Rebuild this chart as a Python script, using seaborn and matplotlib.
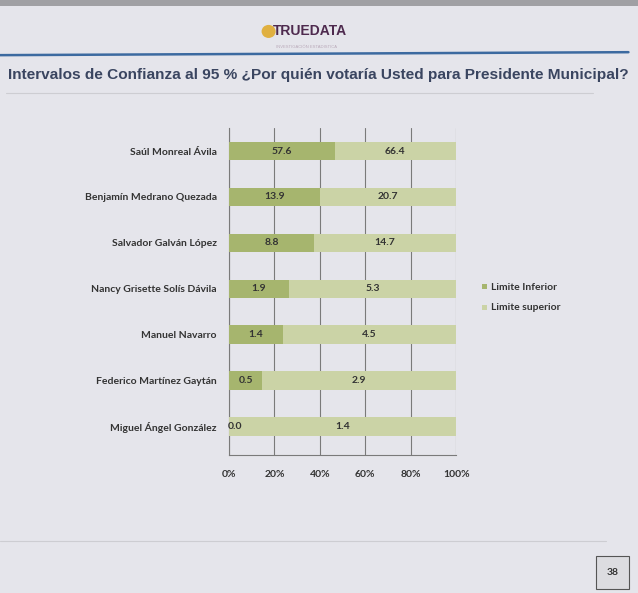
import pandas as pd
import numpy as np
import matplotlib
matplotlib.use('Agg')
import matplotlib.pyplot as plt
import seaborn as sns
from matplotlib.patches import Circle, Rectangle

# datos del gráfico (intervalos de confianza al 95 %)
candidatos = ['Saúl Monreal Ávila', 'Benjamín Medrano Quezada', 'Salvador Galván López',
              'Nancy Grisette Solís Dávila', 'Manuel Navarro', 'Federico Martínez Gaytán',
              'Miguel Ángel González']
limite_inferior = [57.6, 13.9, 8.8, 1.9, 1.4, 0.5, 0.0]
limite_superior = [66.4, 20.7, 14.7, 5.3, 4.5, 2.9, 1.4]
ticks_x = [0, 20, 40, 60, 80, 100]
series = ['Limite Inferior', 'Limite superior']

BG = '#e5e5eb'
VERDE_OSCURO = '#a6b56e'
VERDE_CLARO = '#cbd3a6'
TXT = '#333333'

df = pd.DataFrame({'Candidato': candidatos, 'Inferior': limite_inferior, 'Superior': limite_superior})
df['Total'] = df['Inferior'] + df['Superior']
# barras 100 % apiladas
df['pct_inf'] = df['Inferior'] / df['Total'] * 100
df['pct_tot'] = 100.0

sns.set_style('white')
plt.rcParams['font.family'] = ['Lato', 'DejaVu Sans']

fig = plt.figure(figsize=(6.38, 5.93), dpi=100, facecolor=BG)
ax = fig.add_axes([0.359, 0.233, 0.356, 0.551])
ax.set_facecolor(BG)

sns.barplot(data=df, y='Candidato', x='pct_tot', orient='h', color=VERDE_CLARO,
            saturation=1, width=0.4, ax=ax)
sns.barplot(data=df, y='Candidato', x='pct_inf', orient='h', color=VERDE_OSCURO,
            saturation=1, width=0.4, ax=ax)

for p in ax.patches:
    p.set_edgecolor('none')
    p.set_zorder(3)

# etiquetas de valores
for i, row in df.iterrows():
    x_inf = row['pct_inf'] / 2 if row['pct_inf'] > 3 else 2.5
    ax.text(x_inf, i, f"{row['Inferior']:.1f}", ha='center', va='center',
            fontsize=7.5, fontweight='bold', color=TXT, zorder=4)
    ax.text(row['pct_inf'] + (100 - row['pct_inf']) / 2, i, f"{row['Superior']:.1f}",
            ha='center', va='center', fontsize=7.5, fontweight='bold', color=TXT, zorder=4)

ax.set_xlim(0, 100)
ax.set_ylim(6.62, -0.48)
ax.set_xticks(ticks_x)
ax.set_xticklabels([f'{t}%' for t in ticks_x], fontsize=7.5, fontweight='bold', color=TXT)
ax.set_yticks(range(len(candidatos)))
ax.set_yticklabels(candidatos, fontsize=7.5, fontweight='bold', color=TXT)
ax.set_xlabel('')
ax.set_ylabel('')
ax.grid(axis='x', color='#7a7a7a', linewidth=0.8, zorder=0)
ax.set_axisbelow(True)
for s in ['top', 'right']:
    ax.spines[s].set_visible(False)
for s in ['left', 'bottom']:
    ax.spines[s].set_color('#7a7a7a')
    ax.spines[s].set_linewidth(0.8)
ax.set_yticks(np.arange(-0.5, 7, 1), minor=True)
ax.tick_params(axis='y', which='major', length=0, pad=9)
ax.tick_params(axis='y', which='minor', length=4, color='#7a7a7a', direction='out')
ax.tick_params(axis='x', length=4, color='#7a7a7a', pad=7)

# leyenda
fig.patches.append(Rectangle((0.755, 0.512), 0.008, 0.009, transform=fig.transFigure,
                             facecolor=VERDE_OSCURO, edgecolor='none'))
fig.patches.append(Rectangle((0.755, 0.477), 0.008, 0.009, transform=fig.transFigure,
                             facecolor=VERDE_CLARO, edgecolor='none'))
fig.text(0.770, 0.516, series[0], fontsize=7.5, va='center', color=TXT, fontweight='bold')
fig.text(0.770, 0.481, series[1], fontsize=7.5, va='center', color=TXT, fontweight='bold')

# encabezado
fig.patches.append(Rectangle((0, 0.99), 1, 0.01, transform=fig.transFigure,
                             facecolor='#a0a0a4', edgecolor='none'))
fig.patches.append(Circle((0.421, 0.947), 0.011, transform=fig.transFigure,
                          facecolor='#e0b040', edgecolor='none'))
fig.text(0.428, 0.947, 'TRUEDATA', fontsize=10, fontweight='bold', color='#4e2a4e',
         va='center', ha='left', family=['Liberation Sans', 'DejaVu Sans'])
fig.text(0.432, 0.921, 'INVESTIGACIÓN ESTADÍSTICA', fontsize=3, color='#b9a9b9',
         va='center', ha='left', family=['Liberation Sans', 'DejaVu Sans'])
fig.add_artist(plt.Line2D([0.0, 0.985], [0.907, 0.912], transform=fig.transFigure,
                          color='#3c6aa0', linewidth=1.8))
fig.text(0.013, 0.873, 'Intervalos de Confianza al 95 % ¿Por quién votaría Usted para Presidente Municipal?',
         fontsize=11.1, fontweight='bold', color='#3a4560', va='center', ha='left',
         family=['Liberation Sans', 'DejaVu Sans'])
fig.add_artist(plt.Line2D([0.01, 0.93], [0.843, 0.843], transform=fig.transFigure,
                          color='#cdcdd2', linewidth=0.8))

# pie de página
fig.add_artist(plt.Line2D([0.0, 0.95], [0.087, 0.087], transform=fig.transFigure,
                          color='#cdcdd2', linewidth=0.8))
fig.patches.append(Rectangle((0.934, 0.006), 0.052, 0.057, transform=fig.transFigure,
                             facecolor='#dcdce0', edgecolor='#555555', linewidth=0.8))
fig.text(0.960, 0.034, '38', fontsize=7.5, fontweight='bold', color=TXT, ha='center', va='center')

fig.savefig('out.png', dpi=100, facecolor=BG)
plt.close(fig)
